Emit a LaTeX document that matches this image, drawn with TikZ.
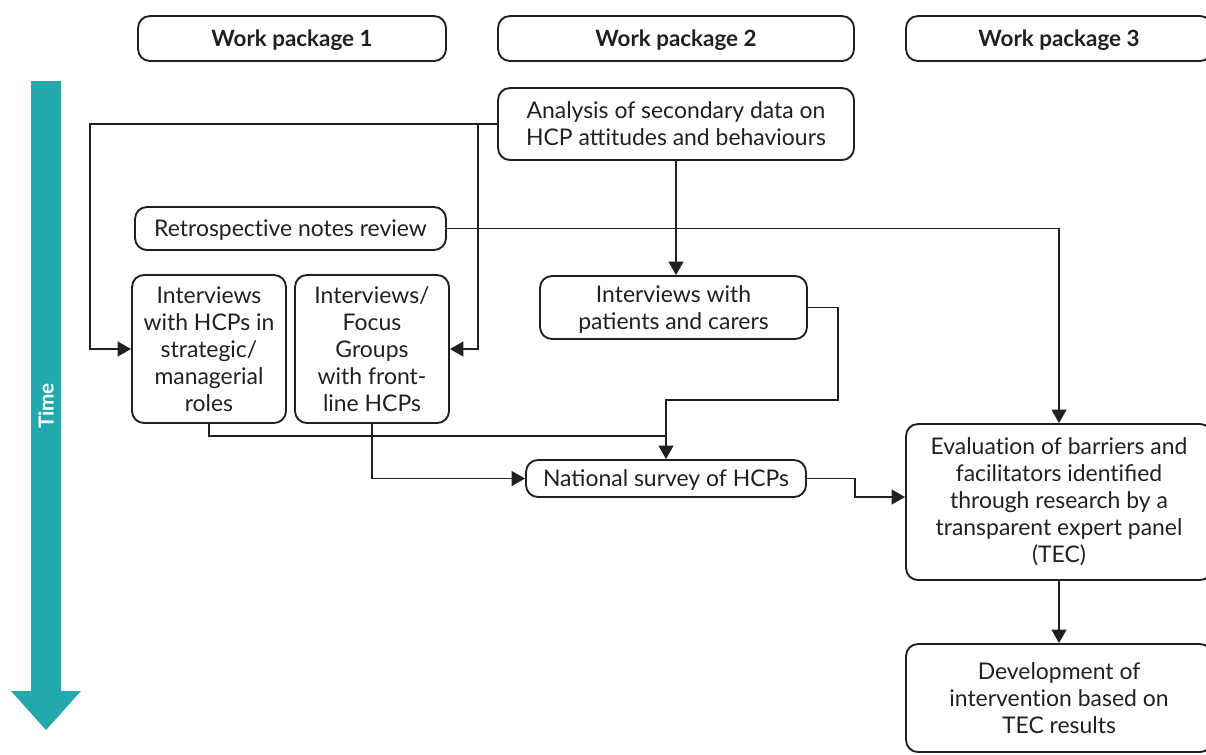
\documentclass[tikz,border=0pt]{standalone}
\usepackage{fontspec}
\setmainfont{Lato}
\usetikzlibrary{arrows.meta}
\definecolor{timeteal}{RGB}{35,168,173}
\definecolor{ink}{RGB}{35,31,32}
% t + i without the ligature
\newcommand\lti{t\kern0pt i}
\begin{document}
\begin{tikzpicture}[x=0.75pt,y=-0.75pt,
  box/.style={draw=ink,line width=1.4pt,rounded corners=9pt,align=center,inner sep=0pt,
    text=ink,font=\fontsize{17.2}{20.3}\selectfont},
  flat/.style={text depth=0pt},
  header/.style={box,flat,font=\bfseries\fontsize{16.8}{18}\selectfont,minimum height=33.75pt},
  link/.style={draw=ink,line width=1.4pt},
  arr/.style={link,-{Triangle[length=10pt,width=11pt]}}]
\useasboundingbox (0,0) rectangle (1206,754);
\clip (0,0) rectangle (1206,754);

% time axis
\fill[timeteal] (31,81) -- (61,81) -- (61,691) -- (81,691) -- (46,730) -- (11,691) -- (31,691) -- cycle;
\node[rotate=90,text=white,font=\bfseries\fontsize{15.5}{16}\selectfont] (time) at (46,406) {Time};

% column headers
\node[header,minimum width=231pt] (wp1) at (292,38.5) {Work package 1};
\node[header,minimum width=267pt] (wp2) at (676,38.5) {Work package 2};
\node[header,minimum width=229.5pt] (wp3) at (1059,38.5) {Work package 3};

% activities
\node[box,minimum width=267pt,minimum height=54pt] (ana) at (676,124)
  {Analysis of secondary data on\\HCP at\lti tudes and behaviours};
\node[box,flat,minimum width=233.25pt,minimum height=32.25pt] (retro) at (290.5,228.5)
  {Retrospec\lti ve notes review};
\node[box,minimum width=115.5pt,minimum height=111pt] (hcp) at (209,349)
  {Interviews\\with HCPs in\\strategic/\\managerial\\roles};
\node[box,minimum width=115.5pt,minimum height=111pt] (foc) at (372,349)
  {Interviews/\\Focus\\Groups\\with front-\\line HCPs};
\node[box,flat,minimum width=200.25pt,minimum height=47.25pt] (pat) at (673.5,307.5)
  {Interviews with\\patients and carers};
\node[box,flat,minimum width=210pt,minimum height=27.75pt] (nat) at (666,478.5)
  {National survey of HCPs};
\node[box,minimum width=229.5pt,minimum height=117pt] (eval) at (1059,502)
  {Evalua\lti on of barriers and\\facilitators iden\lti fied\\through research by a\\transparent expert panel\\(TEC)};
\node[box,minimum width=229.5pt,minimum height=81pt] (dev) at (1059,698)
  {Development of\\interven\lti on based on\\TEC results};

% connectors
\coordinate (split) at (478,124);
\draw[arr] (ana.west) -- (90,124) |- (hcp.west);
\draw[arr] (split) |- (foc.east);
\draw[arr] (ana.south) -- (ana.south |- pat.north);
\draw[arr] (retro.east) -| (eval.north);
\coordinate (merge) at (666,400);
\draw[arr] (pat.east) -| (838,400) -- (merge) -- (nat.north);
\draw[link] (hcp.south) |- (666,436);
\draw[arr] (foc.south) |- (nat.west);
\coordinate (step2) at (855,497);
\draw[arr] (nat.east) -| (step2) -- (eval.west |- step2);
\draw[arr] (eval.south) -- (dev.north);
\end{tikzpicture}
\end{document}
